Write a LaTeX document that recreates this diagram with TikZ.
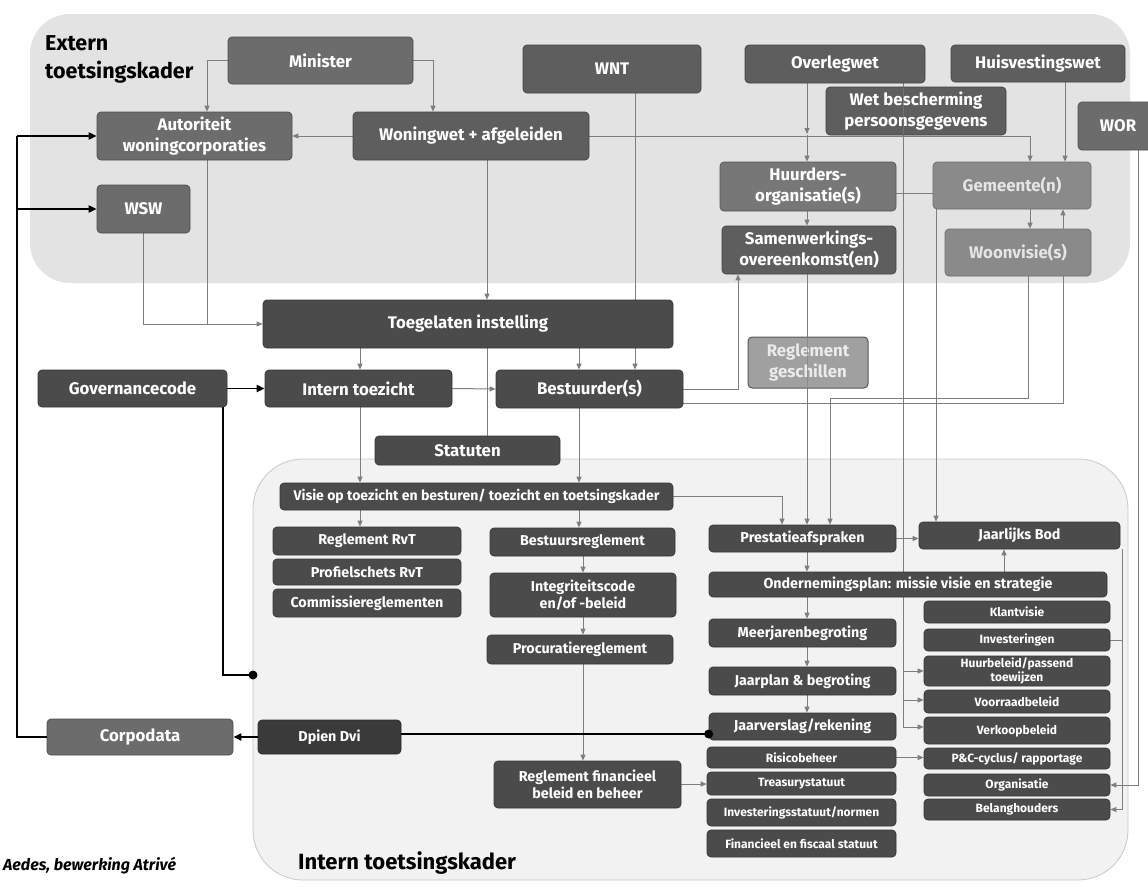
\documentclass[tikz,border=0pt]{standalone}
\usepackage{fontspec}
\setmainfont{Fira Sans}
\usetikzlibrary{arrows.meta,calc}
\pgfdeclarelayer{back}
\pgfdeclarelayer{bg}
\pgfsetlayers{back,bg,main}
\definecolor{cA}{HTML}{4B4B4B}
\definecolor{cB}{HTML}{5E5E5E}
\definecolor{cC}{HTML}{6C6C6C}
\definecolor{cH}{HTML}{777777}
\definecolor{cD}{HTML}{8A8A8A}
\definecolor{cG}{HTML}{A0A0A0}
\definecolor{cE}{HTML}{3A3A3A}
\definecolor{ext}{HTML}{E3E3E3}
\definecolor{intc}{HTML}{F2F2F2}
\definecolor{lnc}{HTML}{7E7E7E}
\begin{document}
\begin{tikzpicture}[x=1pt,y=-1pt,
  bx/.style={rounded corners=4pt, inner sep=1pt, align=center, text=white, line width=0.7pt},
  fL/.style={font=\bfseries\fontsize{16.8}{21}\selectfont},
  fM/.style={font=\bfseries\fontsize{14.3}{17}\selectfont},
  fV/.style={font=\bfseries\fontsize{14}{17}\selectfont},
  fS/.style={font=\bfseries\fontsize{12}{13.5}\selectfont},
  kA/.style={bx, fill=cA, draw=cA!70!black},
  kB/.style={bx, fill=cB, draw=cB!70!black},
  kC/.style={bx, fill=cC, draw=cC!70!black},
  kH/.style={bx, fill=cH, draw=cH!70!black},
  kD/.style={bx, fill=cD, draw=cD!80!black, text=black!10},
  kG/.style={bx, fill=cG, draw=black!65, line width=1pt, text=black!8},
  kE/.style={bx, fill=cE, draw=cE!70!black},
  wh/.style 2 args={minimum width=#1pt, minimum height=#2pt},
  ln/.style={draw=lnc, line width=1pt},
  ar/.style={ln, -{Triangle[length=6pt,width=5pt]}},
  blk/.style={draw=black, line width=1.8pt},
  bar/.style={blk, -{Triangle[length=8pt,width=7pt]}},
]
\useasboundingbox (0,0) rectangle (1148,886);

\begin{pgfonlayer}{back}
\fill[ext,rounded corners=40pt] (30,14) rectangle (1130,283);
\filldraw[fill=intc,draw=black!22,line width=0.8pt,rounded corners=50pt] (253,459) rectangle (1128,880);
\end{pgfonlayer}

% labels
\node[anchor=north west, align=left, inner sep=0, font=\bfseries\fontsize{21.5}{28}\selectfont] (extlbl) at (45,35) {Extern\\toetsingskader};
\node[anchor=base west, inner sep=0, font=\bfseries\fontsize{22}{26}\selectfont] (intlbl) at (298,869) {Intern toetsingskader};
\node[anchor=base west, inner sep=0, font=\bfseries\itshape\fontsize{16}{19}\selectfont] (src) at (3,870) {Aedes, bewerking Atrivé};

% top region
\node[kC,fL,wh={185}{47}] (minister) at (320.5,60.5) {Minister};
\node[kC,fL,wh={195}{48}] (autoriteit) at (194.5,136) {Autoriteit\\woningcorporaties};
\node[kC,fL,wh={93}{48}] (wsw) at (143.5,209) {WSW};
\node[kB,fL,wh={236}{48}] (woningwet) at (471,136) {Woningwet + afgeleiden};
\node[kB,fL,wh={178}{48}] (wnt) at (612,69) {WNT};
\node[kB,fL,wh={180}{38}] (overlegwet) at (835,64) {Overlegwet};
\node[kB,fL,wh={174}{37}] (huisvesting) at (1038,63.5) {Huisvestingswet};
\node[kB,fL,wh={180}{48}] (wbp) at (916,111) {Wet bescherming\\persoonsgegevens};
\node[kC,fL,wh={80}{48}] (wor) at (1118,126) {WOR};
\node[kH,fL,wh={176}{49}] (huurders) at (808,186.5) {Huurders-\\organisatie(s)};
\node[kB,fL,wh={174}{48}] (samenw) at (809,250) {Samenwerkings-\\overeenkomst(en)};
\node[kD,fL,wh={158}{47}] (gemeente) at (1012,185.5) {Gemeente(n)};
\node[kD,fL,wh={146}{47}] (woonvisie) at (1018,252.5) {Woonvisie(s)};

% middle
\node[kA,fL,wh={410}{48}] (toegelaten) at (468,324) {Toegelaten instelling};
\node[kA,fL,wh={189}{37}] (governance) at (132.5,388.5) {Governancecode};
\node[kA,fL,wh={187}{37}] (interntoezicht) at (358.5,388.5) {Intern toezicht};
\node[kA,fL,wh={187}{38}] (bestuurder) at (589.5,389) {Bestuurder(s)};
\node[kA,fL,wh={185}{29}] (statuten) at (467.5,450.5) {Statuten};
\node[kG,fL,wh={120}{51}] (geschillen) at (808,362.5) {Reglement\\geschillen};

% intern left/middle
\node[kA,fV,wh={393}{27}] (visie) at (476.5,496.5) {Visie op toezicht en besturen/ toezicht en toetsingskader};
\node[kA,fM,wh={188}{28}] (rvt) at (367,541) {Reglement RvT};
\node[kA,fM,wh={188}{26}] (profiel) at (367,572) {Profielschets RvT};
\node[kA,fM,wh={188}{28}] (commissie) at (367,603) {Commissiereglementen};
\node[kA,fM,wh={185}{28}] (bestuursregl) at (582.5,542) {Bestuursreglement};
\node[kA,fM,wh={186}{44}] (integriteit) at (583,595) {Integriteitscode\\en/of -beleid};
\node[kA,fM,wh={186}{29}] (procuratie) at (580,649.5) {Procuratiereglement};
\node[kA,fM,wh={187}{47}] (regfin) at (587.5,784.5) {Reglement financieel\\beleid en beheer};
\node[kE,fM,wh={143}{34}] (dpien) at (329.5,737) {Dpien Dvi};
\node[kC,fL,wh={186}{36}] (corpodata) at (140,737) {Corpodata};

% intern right
\node[kA,fM,wh={187}{27}] (prestatie) at (802.5,538.5) {Prestatieafspraken};
\node[kA,fM,wh={201}{27}] (bod) at (1019.5,535.5) {Jaarlijks Bod};
\node[kA,fM,wh={398}{25}] (onderneming) at (908,584.5) {Ondernemingsplan: missie visie en strategie};
\node[kA,fM,wh={187}{28}] (meerjaren) at (802.5,633) {Meerjarenbegroting};
\node[kA,fM,wh={187}{28}] (jaarplan) at (802.5,681) {Jaarplan \& begroting};
\node[kA,fM,wh={187}{27}] (jaarverslag) at (802.5,726.5) {Jaarverslag/rekening};
\node[kA,fS,wh={189}{21}] (risico) at (801.5,757.5) {Risicobeheer};
\node[kA,fS,wh={189}{23}] (treasury) at (801.5,783.5) {Treasurystatuut};
\node[kA,fS,wh={189}{27}] (investstatuut) at (801.5,812.5) {Investeringsstatuut/normen};
\node[kA,fS,wh={189}{27}] (fiscaal) at (801.5,843.5) {Financieel en fiscaal statuut};
\node[kA,fS,wh={186}{22}] (klant) at (1017,612) {Klantvisie};
\node[kA,fS,wh={186}{22}] (invest) at (1017,640) {Investeringen};
\node[kA,fS,wh={186}{30}] (huurbeleid) at (1017,671) {Huurbeleid/passend\\toewijzen};
\node[kA,fS,wh={186}{23}] (voorraad) at (1017,701.5) {Voorraadbeleid};
\node[kA,fS,wh={186}{27}] (verkoop) at (1017,730.5) {Verkoopbeleid};
\node[kA,fS,wh={186}{21}] (pc) at (1017,758.5) {P\&C-cyclus/ rapportage};
\node[kA,fS,wh={186}{22}] (organisatie) at (1017,785) {Organisatie};
\node[kA,fS,wh={186}{21}] (belang) at (1017,809.5) {Belanghouders};

% routing coordinates
\foreach \v in {17,207,223,360,433,487,579,583,635,738,782,807,830,903,936,1004,1028,1030,1063,1065,1122,1138}
  {\coordinate (X\v) at (\v,0);}
\foreach \v in {135,193,324,398,403,671,700,727,734,784}
  {\coordinate (Y\v) at (0,\v);}
\coordinate (dot1) at (253,675);

\begin{pgfonlayer}{bg}
% extern
\draw[ar] (minister.west) -| (autoriteit.north -| X207);
\draw[ar] (minister.east) -| (woningwet.north -| X433);
\draw[ar] (woningwet.west) -- (autoriteit.east);
\draw[ar] (woningwet.east) -| (gemeente.north -| X1030);
\draw[ar,shorten >=1pt] (overlegwet.south -| X807) -- (X807 |- Y135);
\draw[ar] (X807 |- Y135) -- (huurders.north -| X807);
\draw[ar] (huisvesting.south -| X1065) -- (gemeente.north -| X1065);
\draw[ar] (gemeente.south -| X1030) -- (woonvisie.north -| X1030);
\draw[ar] (huurders.south -| X807) -- (samenw.north -| X807);
\draw[ln] (huurders.east |- Y193) -- (gemeente.west |- Y193);
\draw[ar] (samenw.south -| X807) -- (prestatie.north -| X807);
\draw[ar] (overlegwet.south -| X903) |- (verkoop.west |- Y727);
\draw[ar] (X903 |- Y671) -- (huurbeleid.west |- Y671);
\draw[ar] (X903 |- Y700) -- (voorraad.west |- Y700);
\draw[ar] (gemeente.south -| X936) -- (bod.north -| X936);
\draw[ar] (wor.south -| X1138) |- (organisatie.east);
\draw[ln] (bod.south -| X1122) -- (invest.east -| X1122);
\draw[ar] (invest.east) -| (X1122 |- belang.east) -- (belang.east);
% middle
\draw[ar] (woningwet.south -| X487) -- (toegelaten.north -| X487);
\draw[ar] (wnt.south -| X635) -- (bestuurder.north -| X635);
\draw[ln] (wsw.south) |- (X207 |- Y324);
\draw[ar] (autoriteit.south -| X207) |- (toegelaten.west |- Y324);
\draw[ar] (toegelaten.south -| X360) -- (interntoezicht.north -| X360);
\draw[ar] (toegelaten.south -| X579) -- (bestuurder.north -| X579);
\draw[ln] (toegelaten.south -| X487) -- (statuten.north -| X487);
\draw[ar] (interntoezicht.east) -- (bestuurder.west);
\draw[ar] (bestuurder.east) -| (samenw.south -| X738);
\draw[ar] (bestuurder.east |- Y403) -| (gemeente.south -| X1063);
\draw[ar] (woonvisie.south -| X1028) |- (X830 |- Y398) -- (prestatie.north -| X830);
\draw[ar] (interntoezicht.south -| X360) -- (visie.north -| X360);
\draw[ar] (bestuurder.south -| X579) -- (visie.north -| X579);
% intern
\draw[ar] (visie.south -| X360) -- (rvt.north -| X360);
\draw[ar] (visie.south -| X579) -- (bestuursregl.north -| X579);
\draw[ar] (visie.east) -| (prestatie.north -| X782);
\draw[ar] (bestuursregl.south -| X583) -- (integriteit.north -| X583);
\draw[ar] (integriteit.south -| X583) -- (procuratie.north -| X583);
\draw[ar] (procuratie.south -| X583) -- (regfin.north -| X583);
\draw[ar] (regfin.east |- Y784) -- (treasury.west |- Y784);
\draw[ar] (prestatie.east) -- (bod.west |- prestatie.east);
\draw[ar] (prestatie.south -| X807) -- (onderneming.north -| X807);
\draw[ar] (onderneming.north -| X1004) -- (bod.south -| X1004);
\draw[ar] (onderneming.south -| X807) -- (meerjaren.north -| X807);
\draw[ar] (meerjaren.south -| X807) -- (jaarplan.north -| X807);
\draw[ar] (jaarplan.south -| X807) -- (jaarverslag.north -| X807);
\draw[ar] (risico.east) -- (pc.west |- risico.east);
\end{pgfonlayer}

% lines visible over boxes
\draw[ln,draw opacity=0.6] (wbp.north -| X903) -- (wbp.south -| X903);
\draw[ln,draw opacity=0.6] (geschillen.north -| X807) -- (geschillen.south -| X807);

% black connectors
\draw[bar] (governance.east) -- (interntoezicht.west);
\draw[blk] (governance.south -| X223) |- (dot1);
\fill (dot1) circle (4.5pt);
\draw[blk] (corpodata.west) -| (X17 |- autoriteit.west);
\draw[bar] (X17 |- autoriteit.west) -- (autoriteit.west);
\draw[bar] (X17 |- wsw.west) -- (wsw.west);
\draw[blk] (jaarverslag.west |- Y734) -- (dpien.east |- Y734);
\fill (jaarverslag.west |- Y734) circle (4.5pt);
\draw[bar] (dpien.west) -- (corpodata.east);
\end{tikzpicture}
\end{document}
